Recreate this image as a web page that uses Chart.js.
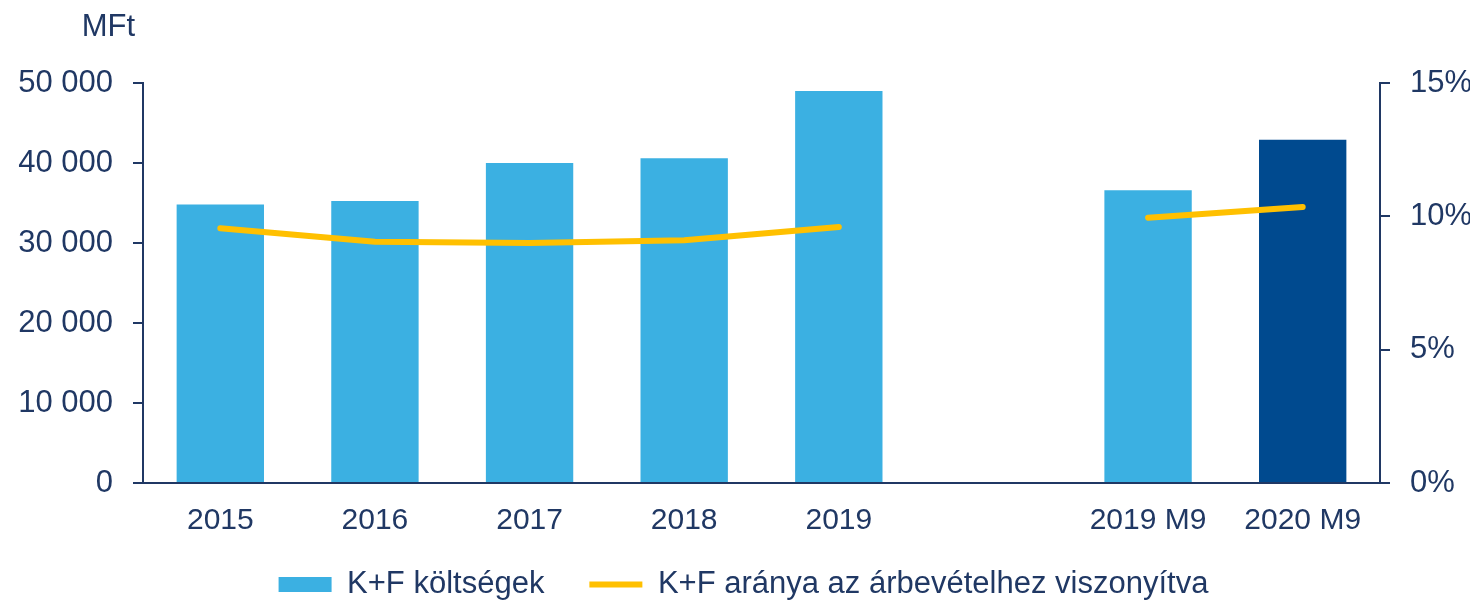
<!DOCTYPE html>
<html>
<head>
<meta charset="utf-8">
<script src="https://cdn.jsdelivr.net/npm/chart.js@4.4.1/dist/chart.umd.min.js"></script>
<style>
  html, body { margin: 0; padding: 0; background: #ffffff; overflow: hidden; }
  #wrap { width: 1478px; height: 602px; }
</style>
</head>
<body>
<div id="wrap"><canvas id="c" width="1478" height="602"></canvas></div>
<script>
// ---- data ----
const categories = ['2015', '2016', '2017', '2018', '2019', '', '2019 M9', '2020 M9'];
const costValues = [34800, 35250, 40000, 40600, 49000, null, 36600, 42900];   // MFt
const ratioValues = [9.55, 9.05, 9.0, 9.1, 9.6, null, 9.95, 10.35];            // %
const leftTicks = [0, 10000, 20000, 30000, 40000, 50000];
const rightTicks = [0, 5, 10, 15];
const seriesNames = ['K+F költségek', 'K+F aránya az árbevételhez viszonyítva'];
const unitLabel = 'MFt';

const NAVY = '#203864';
const LIGHT = '#3BB0E2';
const DARK = '#004A8F';
const GOLD = '#FFC000';
const FONT = "'Liberation Sans', Arial, sans-serif";

const barColors = categories.map((c, i) => i === categories.length - 1 ? DARK : LIGHT);

const fmt = v => String(v).replace(/\B(?=(\d{3})+(?!\d))/g, ' ');

const unitPlugin = {
  id: 'unitLabel',
  afterLayout(chart) {
    // let the category labels use the space below the (compact) x axis box
    const x = chart.scales.x;
    x.bottom = x.top + 80;
  },
  afterDraw(chart) {
    const ctx = chart.ctx;
    const y = chart.scales.y;
    ctx.save();
    ctx.fillStyle = NAVY;
    ctx.font = '31px ' + FONT;
    ctx.textAlign = 'right';
    ctx.textBaseline = 'middle';
    ctx.fillText(unitLabel, y.right - 8, 27);
    ctx.restore();
  }
};

new Chart(document.getElementById('c'), {
  type: 'bar',
  data: {
    labels: categories,
    datasets: [
      {
        type: 'bar',
        label: seriesNames[0],
        data: costValues,
        backgroundColor: barColors,
        borderWidth: 0,
        yAxisID: 'y',
        barPercentage: 0.565,
        categoryPercentage: 1.0,
        pointStyle: 'rect',
        order: 0
      },
      {
        type: 'line',
        label: seriesNames[1],
        data: ratioValues,
        borderColor: GOLD,
        backgroundColor: GOLD,
        borderWidth: 6,
        borderCapStyle: 'round',
        borderJoinStyle: 'round',
        tension: 0,
        pointRadius: 0,
        pointHoverRadius: 0,
        pointStyle: 'line',
        spanGaps: false,
        yAxisID: 'y1',
        order: -1
      }
    ]
  },
  options: {
    responsive: false,
    animation: false,
    devicePixelRatio: 1,
    layout: { padding: { left: 17, right: 8, top: 83, bottom: -8 } },
    plugins: {
      tooltip: { enabled: false },
      title: { display: false },
      legend: {
        display: true,
        position: 'bottom',
        labels: {
          usePointStyle: true,
          pointStyleWidth: 53,
          boxHeight: 15,
          padding: 45,
          color: NAVY,
          font: { family: FONT, size: 31 },
          sort: (a, b) => a.datasetIndex - b.datasetIndex
        }
      }
    },
    scales: {
      x: {
        grid: { display: false, drawTicks: false },
        border: { display: true, color: NAVY, width: 2 },
        ticks: {
          color: NAVY,
          font: { family: FONT, size: 30 },
          padding: 20,
          maxRotation: 0,
          autoSkip: false
        },
        afterFit: s => { s.height = 41; }
      },
      y: {
        position: 'left',
        min: 0,
        max: 50000,
        afterBuildTicks: s => { s.ticks = leftTicks.map(v => ({ value: v })); },
        grid: { display: true, drawOnChartArea: false, drawTicks: true, tickLength: 10, color: NAVY, lineWidth: 2 },
        border: { display: true, color: NAVY, width: 2 },
        ticks: {
          color: NAVY,
          font: { family: FONT, size: 31 },
          padding: 20,
          callback: v => fmt(v)
        },
        afterFit: s => { s.width = 126; }
      },
      y1: {
        position: 'right',
        min: 0,
        max: 15,
        afterBuildTicks: s => { s.ticks = rightTicks.map(v => ({ value: v })); },
        grid: { display: true, drawOnChartArea: false, drawTicks: true, tickLength: 10, color: NAVY, lineWidth: 2 },
        border: { display: true, color: NAVY, width: 2 },
        ticks: {
          color: NAVY,
          font: { family: FONT, size: 31 },
          padding: 20,
          callback: v => v + '%'
        },
        afterFit: s => { s.width = 90; }
      }
    }
  },
  plugins: [unitPlugin]
});
</script>
</body>
</html>
